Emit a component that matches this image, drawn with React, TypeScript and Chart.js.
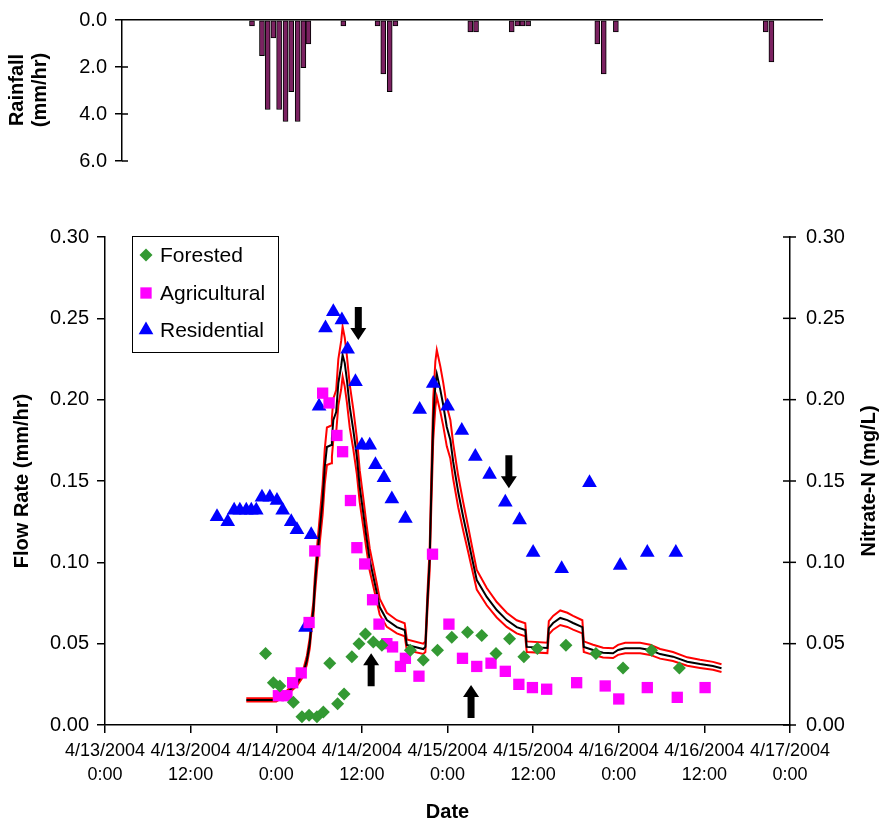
import React, { useEffect, useRef } from "react";
import { Chart, registerables } from "chart.js";
Chart.register(...registerables);

const FONT = "'Liberation Sans', Arial, Helvetica, sans-serif";

// ---------- Rainfall (top panel), hours since 4/13/2004 0:00 ----------
const rainHours = [20.6, 22.0, 22.8, 23.6, 24.4, 25.3, 26.1, 27.0, 27.8, 28.5, 33.4, 38.2, 39.0, 39.9, 40.7, 51.2, 52.0, 57.0, 57.8, 58.5, 59.3, 69.0, 69.9, 71.6, 92.6, 93.4];
const rainValues = [0.25, 1.52, 3.81, 0.76, 3.81, 4.32, 3.05, 4.32, 2.03, 1.02, 0.25, 0.25, 2.29, 3.05, 0.25, 0.51, 0.51, 0.51, 0.25, 0.25, 0.25, 1.02, 2.29, 0.51, 0.51, 1.78];
const rainTicks = [0, 2, 4, 6];

// ---------- Nitrate-N samples ----------
const forHours = [22.5, 23.6, 24.5, 26.4, 27.6, 28.6, 29.7, 30.6, 31.5, 32.6, 33.5, 34.6, 35.6, 36.5, 37.6, 38.8, 42.8, 44.6, 46.6, 48.6, 50.8, 52.8, 54.8, 56.7, 58.7, 60.6, 64.6, 68.8, 72.6, 76.6, 80.5];
const forValues = [0.044, 0.026, 0.024, 0.014, 0.005, 0.006, 0.005, 0.008, 0.038, 0.013, 0.019, 0.042, 0.050, 0.056, 0.051, 0.049, 0.046, 0.040, 0.046, 0.054, 0.057, 0.055, 0.044, 0.053, 0.042, 0.047, 0.049, 0.044, 0.035, 0.046, 0.035];

const agHours = [24.3, 25.5, 26.3, 27.5, 28.6, 29.4, 30.5, 31.4, 32.5, 33.3, 34.4, 35.3, 36.4, 37.5, 38.4, 39.5, 40.3, 41.4, 42.1, 44.0, 45.9, 48.2, 50.1, 52.1, 54.1, 56.1, 58.0, 59.9, 61.9, 66.1, 70.1, 72.0, 76.0, 80.2, 84.1];
const agValues = [0.018, 0.018, 0.026, 0.032, 0.063, 0.107, 0.204, 0.198, 0.178, 0.168, 0.138, 0.109, 0.099, 0.077, 0.062, 0.050, 0.048, 0.036, 0.041, 0.030, 0.105, 0.062, 0.041, 0.036, 0.038, 0.033, 0.025, 0.023, 0.022, 0.026, 0.024, 0.016, 0.023, 0.017, 0.023];

const resHours = [15.7, 17.2, 18.1, 18.9, 19.8, 20.5, 21.2, 22.0, 23.1, 24.1, 24.9, 26.1, 26.9, 28.1, 28.9, 30.0, 30.9, 32.0, 33.2, 34.0, 35.1, 36.0, 37.1, 37.9, 39.1, 40.2, 42.1, 44.1, 46.0, 48.0, 50.0, 51.9, 53.9, 56.1, 58.1, 60.0, 64.0, 67.9, 72.2, 76.0, 80.0];
const resValues = [0.128, 0.125, 0.132, 0.132, 0.132, 0.132, 0.132, 0.140, 0.140, 0.138, 0.132, 0.125, 0.120, 0.060, 0.117, 0.196, 0.244, 0.254, 0.249, 0.231, 0.211, 0.172, 0.172, 0.160, 0.152, 0.139, 0.127, 0.194, 0.210, 0.196, 0.181, 0.165, 0.154, 0.137, 0.126, 0.106, 0.096, 0.149, 0.098, 0.106, 0.106];

// ---------- Flow rate (simulated) with upper / lower bounds ----------
const flowHours = [
  19.8, 24.0, 25.5, 26.9, 27.8, 28.3, 28.7, 28.9, 29.2, 29.4,
  29.7, 30.1, 30.5, 30.8, 31.1, 31.7, 31.8, 32.0, 32.4, 32.7,
  33.1, 33.3, 33.6, 33.9, 34.3, 34.8, 35.3, 35.7, 36.2, 36.6,
  37.1, 38.1, 38.5, 39.5, 40.9, 42.0, 42.3, 44.6, 44.9, 45.2,
  45.5, 45.7, 46.0, 46.3, 46.5, 47.0, 47.4, 47.9, 48.4, 48.8,
  49.5, 50.2, 50.9, 51.4, 52.1, 53.5, 54.9, 56.3, 57.7, 58.9,
  59.1, 62.0, 62.2, 62.8, 63.8, 64.8, 65.6, 66.9, 67.1, 68.4,
  69.8, 71.2, 71.9, 72.9, 75.0, 76.4, 77.8, 79.6, 81.6, 83.4,
  85.2, 86.4,
];
const flowMid = [
  0.0154, 0.0154, 0.0197, 0.0258, 0.0320, 0.0400, 0.0504, 0.0602, 0.0707, 0.0848,
  0.1014, 0.1199, 0.1383, 0.1586, 0.1709, 0.1721, 0.1764, 0.1875, 0.1924, 0.2102,
  0.2207, 0.2275, 0.2225, 0.2121, 0.1955, 0.1813, 0.1648, 0.1463, 0.1303, 0.1168,
  0.1014, 0.0811, 0.0725, 0.0645, 0.0602, 0.0584, 0.0492, 0.0467, 0.0480, 0.0768,
  0.1014, 0.1383, 0.1875, 0.2090, 0.2158, 0.2059, 0.1967, 0.1832, 0.1752, 0.1617,
  0.1432, 0.1279, 0.1137, 0.1033, 0.0891, 0.0787, 0.0707, 0.0645, 0.0602, 0.0584,
  0.0480, 0.0473, 0.0596, 0.0627, 0.0658, 0.0645, 0.0627, 0.0602, 0.0480, 0.0461,
  0.0444, 0.0441, 0.0461, 0.0472, 0.0472, 0.0461, 0.0436, 0.0420, 0.0389, 0.0375,
  0.0363, 0.0349,
];
const flowUpper = [
  0.0165, 0.0165, 0.0211, 0.0276, 0.0342, 0.0428, 0.0539, 0.0644, 0.0756, 0.0907,
  0.1085, 0.1283, 0.1480, 0.1697, 0.1829, 0.1841, 0.1887, 0.2006, 0.2059, 0.2249,
  0.2361, 0.2449, 0.2381, 0.2269, 0.2092, 0.1940, 0.1763, 0.1565, 0.1394, 0.1250,
  0.1085, 0.0868, 0.0776, 0.0690, 0.0644, 0.0625, 0.0526, 0.0500, 0.0514, 0.0822,
  0.1085, 0.1480, 0.2006, 0.2236, 0.2305, 0.2203, 0.2105, 0.1960, 0.1875, 0.1730,
  0.1532, 0.1369, 0.1217, 0.1105, 0.0953, 0.0842, 0.0756, 0.0690, 0.0644, 0.0625,
  0.0514, 0.0506, 0.0638, 0.0671, 0.0704, 0.0690, 0.0671, 0.0644, 0.0514, 0.0493,
  0.0475, 0.0472, 0.0493, 0.0505, 0.0505, 0.0493, 0.0467, 0.0449, 0.0416, 0.0401,
  0.0388, 0.0373,
];
const flowLower = [
  0.0144, 0.0144, 0.0184, 0.0241, 0.0299, 0.0374, 0.0471, 0.0563, 0.0661, 0.0793,
  0.0948, 0.1121, 0.1293, 0.1483, 0.1598, 0.1609, 0.1649, 0.1753, 0.1799, 0.1965,
  0.2064, 0.2141, 0.2080, 0.1983, 0.1828, 0.1695, 0.1541, 0.1368, 0.1218, 0.1092,
  0.0948, 0.0758, 0.0678, 0.0603, 0.0563, 0.0546, 0.0460, 0.0437, 0.0449, 0.0718,
  0.0948, 0.1293, 0.1753, 0.1954, 0.2018, 0.1925, 0.1839, 0.1713, 0.1638, 0.1512,
  0.1339, 0.1196, 0.1063, 0.0966, 0.0833, 0.0736, 0.0661, 0.0603, 0.0563, 0.0546,
  0.0449, 0.0442, 0.0557, 0.0586, 0.0615, 0.0603, 0.0586, 0.0563, 0.0449, 0.0431,
  0.0415, 0.0412, 0.0431, 0.0441, 0.0441, 0.0431, 0.0408, 0.0393, 0.0364, 0.0351,
  0.0339, 0.0326,
];

const flowTicks = [0, 0.05, 0.1, 0.15, 0.2, 0.25, 0.3];
const xTickDates = ["4/13/2004", "4/13/2004", "4/14/2004", "4/14/2004", "4/15/2004", "4/15/2004", "4/16/2004", "4/16/2004", "4/17/2004"];
const xTickTimes = ["0:00", "12:00", "0:00", "12:00", "0:00", "12:00", "0:00", "12:00", "0:00"];

// annotation arrows: time, value at the arrow tip, direction
const arrowHours = [35.5, 56.6, 37.3, 51.3];
const arrowTipValues = [0.2367, 0.1455, 0.0441, 0.0246];
const arrowPointsDown = [true, true, false, false];

const pts = (xs: number[], ys: number[]) => xs.map((x, i) => ({ x, y: ys[i] }));

function marker(ctx: CanvasRenderingContext2D, style: string, x: number, y: number, r: number, color: string) {
  ctx.save();
  ctx.fillStyle = color;
  ctx.beginPath();
  if (style === "rectRot") {
    ctx.moveTo(x, y - r); ctx.lineTo(x + r, y); ctx.lineTo(x, y + r); ctx.lineTo(x - r, y);
  } else if (style === "rect") {
    const s = r / Math.SQRT2;
    ctx.rect(x - s, y - s, 2 * s, 2 * s);
  } else {
    for (let k = 0; k < 3; k++) {
      const a = (k * 2 * Math.PI) / 3;
      const px = x + Math.sin(a) * r, py = y - Math.cos(a) * r;
      if (k === 0) ctx.moveTo(px, py); else ctx.lineTo(px, py);
    }
  }
  ctx.closePath();
  ctx.fill();
  ctx.restore();
}

function drawArrow(ctx: CanvasRenderingContext2D, x: number, tipY: number, down: boolean) {
  const len = 33, headLen = 12, headHalf = 8, shaftHalf = 3.5;
  const dir = down ? 1 : -1;
  const tailY = tipY - dir * len;
  const neckY = tipY - dir * headLen;
  ctx.beginPath();
  ctx.moveTo(x - shaftHalf, tailY);
  ctx.lineTo(x + shaftHalf, tailY);
  ctx.lineTo(x + shaftHalf, neckY);
  ctx.lineTo(x + headHalf, neckY);
  ctx.lineTo(x, tipY);
  ctx.lineTo(x - headHalf, neckY);
  ctx.lineTo(x - shaftHalf, neckY);
  ctx.closePath();
  ctx.fill();
}

function rotatedText(ctx: CanvasRenderingContext2D, text: string, x: number, y: number) {
  ctx.save();
  ctx.translate(x, y);
  ctx.rotate(-Math.PI / 2);
  ctx.textAlign = "center";
  ctx.textBaseline = "middle";
  ctx.fillText(text, 0, 0);
  ctx.restore();
}

export default function App() {
  const topRef = useRef<HTMLCanvasElement>(null);
  const botRef = useRef<HTMLCanvasElement>(null);

  useEffect(() => {
    const topPlugin = {
      id: "topDecor",
      afterDraw(chart: any) {
        const ctx = chart.ctx as CanvasRenderingContext2D;
        const y = chart.scales.y;
        const left = chart.chartArea.left;
        ctx.save();
        ctx.strokeStyle = "#000";
        ctx.lineWidth = 1.5;
        rainTicks.forEach((v) => {
          if (v === 0) return;
          const py = y.getPixelForValue(v);
          ctx.beginPath();
          ctx.moveTo(left, py);
          ctx.lineTo(left + 6, py);
          ctx.stroke();
        });
        ctx.fillStyle = "#000";
        ctx.font = `bold 20px ${FONT}`;
        rotatedText(ctx, "Rainfall", 17, 90);
        rotatedText(ctx, "(mm/hr)", 40, 90);
        ctx.restore();
      },
    };

    const top = new Chart(topRef.current!, {
      type: "bar",
      data: {
        datasets: [
          {
            label: "Rainfall",
            data: pts(rainHours, rainValues),
            backgroundColor: "#7b2261",
            borderColor: "#000",
            borderWidth: 1,
            borderSkipped: false,
            barThickness: 5,
          },
        ],
      },
      options: {
        responsive: false,
        animation: false,
        events: [],
        layout: { padding: { top: 20, left: 0, right: 60, bottom: 39 } },
        plugins: { legend: { display: false }, tooltip: { enabled: false } },
        scales: {
          x: {
            type: "linear",
            position: "top",
            min: 2.38,
            max: 100.49,
            offset: false,
            ticks: { display: false },
            grid: { display: false },
            border: { display: true, color: "#000", width: 1.5 },
            afterFit(s: any) { s.height = 0; },
          },
          y: {
            position: "left",
            min: 0,
            max: 6,
            reverse: true,
            ticks: {
              stepSize: 2,
              color: "#000",
              padding: 8,
              font: { family: FONT, size: 20 },
              callback: (v: any) => Number(v).toFixed(1),
            },
            grid: { drawOnChartArea: false, tickLength: 7, color: "#000", lineWidth: 1.5 },
            border: { display: true, color: "#000", width: 1.5 },
            afterFit(s: any) { s.width = 122; },
          },
        },
      } as any,
      plugins: [topPlugin],
    });

    const botPlugin = {
      id: "botDecor",
      afterDatasetsDraw(chart: any) {
        const ctx = chart.ctx as CanvasRenderingContext2D;
        const xs = chart.scales.x, ys = chart.scales.y;
        ctx.save();
        ctx.fillStyle = "#000";
        arrowHours.forEach((h, i) => {
          drawArrow(ctx, xs.getPixelForValue(h), ys.getPixelForValue(arrowTipValues[i]), arrowPointsDown[i]);
        });
        ctx.restore();
      },
      afterDraw(chart: any) {
        const ctx = chart.ctx as CanvasRenderingContext2D;
        const ca = chart.chartArea;
        const y2 = chart.scales.y2;
        ctx.save();
        // right axis crossing ticks
        ctx.strokeStyle = "#000";
        ctx.lineWidth = 1.5;
        flowTicks.forEach((v) => {
          const py = y2.getPixelForValue(v);
          ctx.beginPath();
          ctx.moveTo(ca.right - 7, py);
          ctx.lineTo(ca.right + 6, py);
          ctx.stroke();
        });
        // legend
        const bx = 132, by = 36, bw = 146, bh = 116;
        ctx.fillStyle = "#fff";
        ctx.fillRect(bx, by, bw, bh);
        ctx.lineWidth = 1;
        ctx.strokeStyle = "#000";
        ctx.strokeRect(bx + 0.5, by + 0.5, bw, bh);
        const entries = chart.data.datasets.slice(0, 3);
        const rows = [55, 93, 130];
        const sizes = [6.5, 8, 8.5];
        ctx.font = `21px ${FONT}`;
        ctx.textBaseline = "middle";
        ctx.textAlign = "left";
        entries.forEach((ds: any, i: number) => {
          marker(ctx, ds.pointStyle, 146, rows[i], sizes[i], ds.backgroundColor);
          ctx.fillStyle = "#000";
          ctx.fillText(ds.label, 160, rows[i] + 1);
        });
        // axis titles
        ctx.fillStyle = "#000";
        ctx.font = `bold 20px ${FONT}`;
        rotatedText(ctx, "Flow Rate (mm/hr)", 22, 281);
        rotatedText(ctx, "Nitrate-N (mg/L)", 869, 281);
        ctx.textAlign = "center";
        ctx.textBaseline = "middle";
        ctx.fillText("Date", (ca.left + ca.right) / 2, 612);
        ctx.restore();
      },
    };

    const tickFont = { family: FONT, size: 20 };
    const bot = new Chart(botRef.current!, {
      type: "scatter",
      data: {
        datasets: [
          {
            label: "Forested",
            data: pts(forHours, forValues),
            yAxisID: "y2",
            pointStyle: "rectRot",
            pointRadius: 6.5,
            backgroundColor: "#339933",
            borderColor: "#339933",
            borderWidth: 0,
          },
          {
            label: "Agricultural",
            data: pts(agHours, agValues),
            yAxisID: "y2",
            pointStyle: "rect",
            pointRadius: 8,
            backgroundColor: "#ff00ff",
            borderColor: "#ff00ff",
            borderWidth: 0,
          },
          {
            label: "Residential",
            data: pts(resHours, resValues),
            yAxisID: "y2",
            pointStyle: "triangle",
            pointRadius: 8.5,
            backgroundColor: "#0000ff",
            borderColor: "#0000ff",
            borderWidth: 0,
          },
          {
            label: "Flow",
            data: pts(flowHours, flowMid),
            yAxisID: "y",
            showLine: true,
            pointRadius: 0,
            borderColor: "#000",
            borderWidth: 2,
            tension: 0,
          },
          {
            label: "Flow upper",
            data: pts(flowHours, flowUpper),
            yAxisID: "y",
            showLine: true,
            pointRadius: 0,
            borderColor: "#ff0000",
            borderWidth: 2,
            tension: 0,
          },
          {
            label: "Flow lower",
            data: pts(flowHours, flowLower),
            yAxisID: "y",
            showLine: true,
            pointRadius: 0,
            borderColor: "#ff0000",
            borderWidth: 2,
            tension: 0,
          },
        ],
      },
      options: {
        responsive: false,
        animation: false,
        events: [],
        layout: { padding: { top: 37, left: 0, right: 0, bottom: 0 } },
        plugins: { legend: { display: false }, tooltip: { enabled: false } },
        scales: {
          x: {
            type: "linear",
            min: 0,
            max: 96,
            offset: false,
            ticks: {
              stepSize: 12,
              autoSkip: false,
              maxRotation: 0,
              minRotation: 0,
              padding: 6,
              color: "#000",
              font: { family: FONT, size: 18, lineHeight: 1.35 },
              callback: (v: any) => {
                const i = Math.round(Number(v) / 12);
                return [xTickDates[i], xTickTimes[i]];
              },
            },
            grid: { drawOnChartArea: false, tickLength: 8, color: "#000", lineWidth: 1.5 },
            border: { display: true, color: "#000", width: 1.5 },
            afterFit(s: any) { s.height = 98; },
          },
          y: {
            position: "left",
            min: 0,
            max: 0.3,
            ticks: {
              stepSize: 0.05,
              color: "#000",
              padding: 8,
              font: tickFont,
              callback: (v: any) => Number(v).toFixed(2),
            },
            grid: { drawOnChartArea: false, tickLength: 8, color: "#000", lineWidth: 1.5 },
            border: { display: true, color: "#000", width: 1.5 },
            afterFit(s: any) { s.width = 105; },
          },
          y2: {
            position: "right",
            min: 0,
            max: 0.3,
            ticks: {
              stepSize: 0.05,
              color: "#000",
              padding: 8,
              font: tickFont,
              callback: (v: any) => Number(v).toFixed(2),
            },
            grid: { display: false },
            border: { display: true, color: "#000", width: 1.5 },
            afterFit(s: any) { s.width = 92; },
          },
        },
      } as any,
      plugins: [botPlugin],
    });

    return () => {
      top.destroy();
      bot.destroy();
    };
  }, []);

  return (
    <div style={{ position: "fixed", left: 0, top: 0, width: 882, height: 823, background: "#fff" }}>
      <canvas ref={topRef} width={882} height={200} style={{ position: "absolute", left: 0, top: 0, width: 882, height: 200 }} />
      <canvas ref={botRef} width={882} height={623} style={{ position: "absolute", left: 0, top: 200, width: 882, height: 623 }} />
    </div>
  );
}
